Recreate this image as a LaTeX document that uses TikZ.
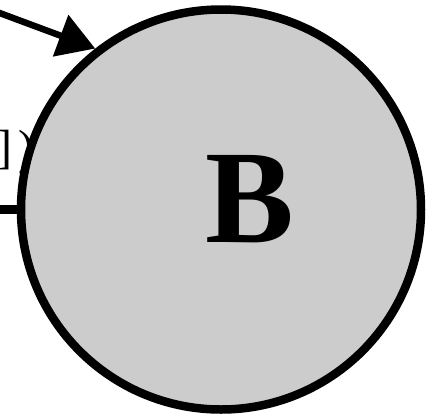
\documentclass[tikz,border=0pt]{standalone}
\usepackage{fontspec}
\setmainfont{Liberation Serif}
\usetikzlibrary{arrows.meta}
\definecolor{bfill}{gray}{0.8}
\begin{document}
\begin{tikzpicture}[x=1pt,y=-1pt,
  bigcircle/.style={circle, draw=black, line width=8.5pt, fill=bfill, minimum size=400pt, inner sep=0pt},
  conn/.style={line width=6.5pt, -{Triangle[length=37pt,width=43pt]}},
  plainline/.style={line width=9pt},
  edgetext/.style={anchor=base west, inner sep=0pt, font=\fontsize{48}{48}\selectfont},
  bigletter/.style={inner sep=0pt, font=\bfseries\fontsize{133}{133}\selectfont}]
\useasboundingbox (0,0) rectangle (434,416);
\node[edgetext] (lbl) at (-4,163.5) {]\kern6pt)};
\node[bigcircle] (B) at (221,209.5) {};
\node[bigletter] (bl) at (250,199) {B};
\coordinate (h) at (-10,209.5);
\coordinate (s) at (-30,2);
\draw[plainline] (h) -- (B.west);
\draw[conn] (s) -- (B.128);
\end{tikzpicture}
\end{document}
